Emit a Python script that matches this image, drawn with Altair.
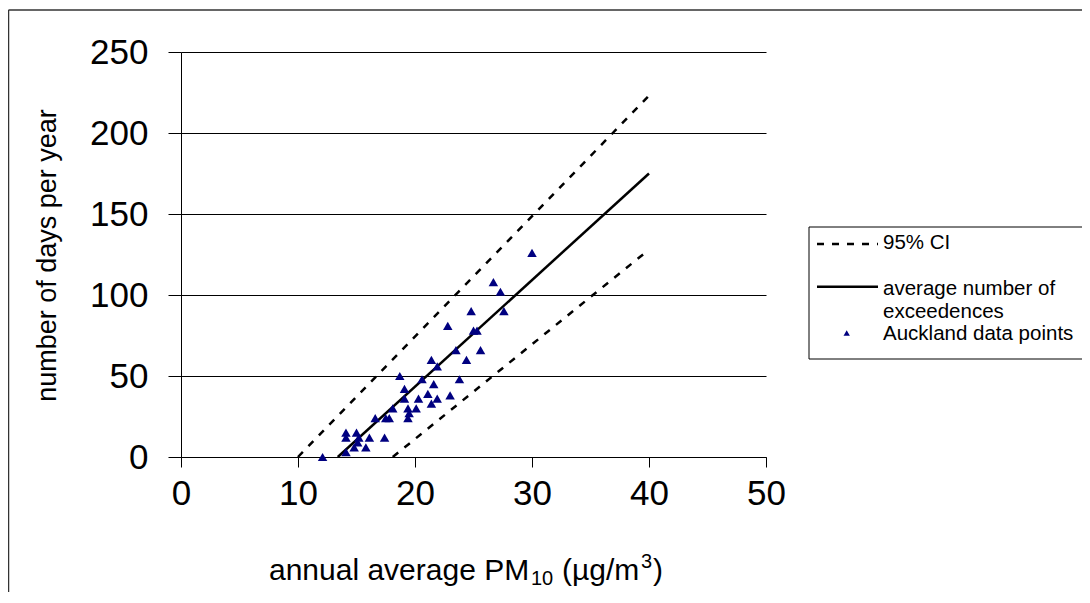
import altair as alt
import pandas as pd

# ---- data ----
pm10 = [30.0, 26.7, 27.3, 24.8, 27.6, 22.8, 25.0, 25.3, 23.5, 25.6,
        24.4, 21.4, 21.9, 18.7, 20.6, 23.8, 19.1, 21.6, 21.1, 23.0,
        19.1, 20.3, 21.9, 21.4, 18.1, 19.4, 20.1, 19.5, 16.6, 17.5,
        17.8, 19.4, 14.1, 15.0, 14.1, 15.2, 16.1, 17.4, 15.1, 14.8,
        15.8, 14.1, 12.1]
days = [126, 108, 102, 90, 90, 81, 78, 78, 66, 66,
        60, 60, 56, 50, 48, 48, 42, 45, 39, 38,
        36, 36, 36, 33, 30, 30, 30, 27, 24, 24,
        24, 24, 15, 15, 12, 12, 12, 12, 9, 6,
        6, 3, 0]

upper_x = [10.0, 40.0]
upper_y = [0, 223]
mean_x = [13.4, 40.0]
mean_y = [0, 175]
lower_x = [18.1, 40.0]
lower_y = [0, 128]

x_ticks = [0, 10, 20, 30, 40, 50]
y_ticks = [0, 50, 100, 150, 200, 250]

FONT = "Liberation Sans"

pts = pd.DataFrame({"pm10": pm10, "days": days})
upper = pd.DataFrame({"pm10": upper_x, "days": upper_y})
mean = pd.DataFrame({"pm10": mean_x, "days": mean_y})
lower = pd.DataFrame({"pm10": lower_x, "days": lower_y})
one = pd.DataFrame({"a": [0]})

xs = alt.Scale(domain=[0, 50], nice=False, zero=False)
ys = alt.Scale(domain=[0, 250], nice=False, zero=False)

x_axis = alt.Axis(values=x_ticks, grid=False, tickSize=10, tickColor="black",
                  domainColor="black", labelFontSize=35, labelFont=FONT,
                  labelColor="black", labelPadding=9, labelFlush=False,
                  title=None)
y_axis = alt.Axis(values=y_ticks, grid=True, gridColor="black", gridWidth=1,
                  tickSize=13, tickColor="black", domainColor="black",
                  labelFontSize=35, labelFont=FONT, labelColor="black",
                  labelPadding=20,
                  title="number of days per year", titleFont=FONT,
                  titleFontSize=27, titleFontWeight="normal", titleColor="black",
                  titleAngle=270, titleX=-126, titleY=203,
                  titleBaseline="alphabetic", titleAlign="center", titleAnchor="start")

points = alt.Chart(pts).mark_point(shape="triangle-up", filled=True, opacity=1,
                                   color="#000080", size=90).encode(
    x=alt.X("pm10:Q", scale=xs, axis=x_axis),
    y=alt.Y("days:Q", scale=ys, axis=y_axis),
)

def line(df, dash):
    m = alt.Chart(df).mark_line(color="black", strokeWidth=2.5,
                                **({"strokeDash": dash} if dash else {}))
    return m.encode(x=alt.X("pm10:Q", scale=xs), y=alt.Y("days:Q", scale=ys))

l_upper = line(upper, [7, 8])
l_mean = line(mean, None)
l_lower = line(lower, [7, 8])

def txt(t, x, y, size, align="left"):
    return alt.Chart(one).mark_text(text=t, align=align, baseline="alphabetic",
                                    font=FONT, fontSize=size, color="black").encode(
        x=alt.value(x), y=alt.value(y))

# ---- x axis title with sub/superscripts (decoration text) ----
x_title = [
    txt("annual average PM", 88, 528, 30),
    txt("10", 350, 533, 20),
    txt("(\u00b5g/m", 381, 528, 30),
    txt("3", 460, 516, 20),
    txt(")", 472, 528, 30),
]

# ---- outer frame (decoration) ----
frame_left = alt.Chart(one).mark_rule(color="#333333", strokeWidth=1.5).encode(
    x=alt.value(-172.5), y=alt.value(-42), y2=alt.value(600))
frame_top = alt.Chart(one).mark_rule(color="#333333", strokeWidth=1.5).encode(
    x=alt.value(-172.5), x2=alt.value(1000), y=alt.value(-42))

# ---- legend (decoration) ----
leg_box = alt.Chart(one).mark_rect(fill="white", stroke="black", strokeWidth=1).encode(
    x=alt.value(628), x2=alt.value(1000), y=alt.value(175), y2=alt.value(307))
leg_dash = alt.Chart(one).mark_rule(color="black", strokeWidth=2.5,
                                    strokeDash=[7, 8]).encode(
    x=alt.value(636), x2=alt.value(697), y=alt.value(192))
leg_solid = alt.Chart(one).mark_rule(color="black", strokeWidth=2.5).encode(
    x=alt.value(636), x2=alt.value(697), y=alt.value(234.7))
leg_tri = alt.Chart(one).mark_point(shape="triangle-up", filled=True, opacity=1,
                                    color="#000080", size=40).encode(
    x=alt.value(665.7), y=alt.value(281))

chart = alt.layer(
    frame_left, frame_top,
    l_upper, l_mean, l_lower, points,
    *x_title,
    leg_box, leg_dash, leg_solid, leg_tri,
    txt("95% CI", 702, 197, 20.5),
    txt("average number of", 702, 243, 20.5),
    txt("exceedences", 702, 266, 20.5),
    txt("Auckland data points", 702, 288, 20.5),
).properties(
    width=585, height=405,
    autosize=alt.AutoSizeParams(type="none"),
    padding={"left": 173, "top": 44, "right": 316, "bottom": 135},
    background="white",
).configure_view(stroke=None)

chart.save("out.html", embed_options={"renderer": "svg", "actions": False})
